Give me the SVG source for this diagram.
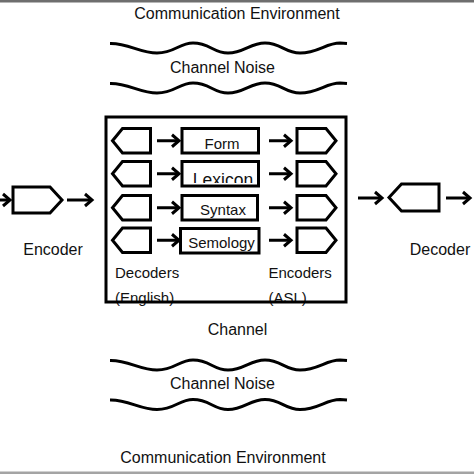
<svg xmlns="http://www.w3.org/2000/svg" width="474" height="474" viewBox="0 0 474 474">
<style>
text{font-family:"Liberation Sans",Arial,sans-serif;fill:#111;}
.big{font-size:16px;text-anchor:middle;}
.in{font-size:15px;}
.shape{fill:#fff;stroke:#000;stroke-width:3;stroke-linejoin:miter;}
.wave{fill:none;stroke:#000;stroke-width:3;}
.arr{fill:none;stroke:#000;stroke-width:3;marker-end:url(#head);}
</style>
<defs>
<marker id="head" markerUnits="userSpaceOnUse" markerWidth="14" markerHeight="16" viewBox="-9 -8 12 16" refX="0" refY="0" orient="auto">
<path d="M-7,-6 L0,0 L-7,6" fill="none" stroke="#000" stroke-width="3"/>
</marker>
<path id="wv" d="M110,-4.5 C128,-5 140,5 157,5 C175,5 179,-5 193,-5 C210,-5 213,5 228,5 C244,5 250,-5 265,-5 C281,-5 285,5 300,5 C318,5 326,-5 340,-5 L347,-4.5"/>
<path id="dec" d="M0,12.25 L10,0 L38,0 L38,24.5 L10,24.5 Z"/>
<path id="enc" d="M0,0 L29,0 L39,12.25 L29,24.5 L0,24.5 Z"/>
<clipPath id="lexclip"><rect x="182" y="160" width="78" height="23"/></clipPath>
</defs>
<rect x="0" y="0" width="474" height="2.5" fill="#6e6e6e"/>
<rect x="0" y="471.5" width="474" height="2.5" fill="#a4a4a4"/>

<g id="environment-top"><text class="big" x="237" y="19.3">Communication Environment</text></g>
<g id="noise-top">
<use href="#wv" class="wave" transform="translate(0,48)"/>
<text class="big" x="222.5" y="73.3">Channel Noise</text>
<use href="#wv" class="wave" transform="translate(0,88)"/>
</g>

<g id="encoder">
<path class="shape" d="M13,187 L50,187 L62,200 L50,213 L13,213 Z"/>
<text class="big" x="53" y="255">Encoder</text>
</g>
<g id="decoder">
<path class="shape" d="M389,197.5 L401.5,184 L439,184 L439,211 L401.5,211 Z"/>
<text class="big" x="440" y="255">Decoder</text>
</g>

<g id="channel">
<g id="decoders-english">
<use href="#dec" class="shape" transform="translate(112.5,128.5)"/>
<use href="#dec" class="shape" transform="translate(112.5,161.5)"/>
<use href="#dec" class="shape" transform="translate(112.5,195.5)"/>
<use href="#dec" class="shape" transform="translate(112.5,228)"/>
<text class="in" x="115" y="278.3">Decoders</text>
<text class="in" x="115" y="303">(English)</text>
</g>
<g id="form"><rect class="shape" x="182" y="128.5" width="76.5" height="24.5"/><text class="in" x="222" y="149" text-anchor="middle">Form</text></g>
<g id="lexicon"><rect class="shape" x="182" y="161.5" width="76.5" height="24.5"/><text x="223" y="185.5" text-anchor="middle" style="font-size:17.5px" clip-path="url(#lexclip)">Lexicon</text></g>
<g id="syntax"><rect class="shape" x="182" y="195.5" width="75.5" height="24.5"/><text class="in" x="223" y="215" text-anchor="middle">Syntax</text></g>
<g id="semology"><rect class="shape" x="180.5" y="228.5" width="78.5" height="24.5"/><text class="in" x="221.5" y="248.3" text-anchor="middle">Semology</text></g>
<g id="encoders-asl">
<use href="#enc" class="shape" transform="translate(297,128.5)"/>
<use href="#enc" class="shape" transform="translate(297,161.5)"/>
<use href="#enc" class="shape" transform="translate(297,195.5)"/>
<use href="#enc" class="shape" transform="translate(297,228)"/>
<text class="in" x="268.5" y="278.3">Encoders</text>
<text class="in" x="268.5" y="303">(ASL)</text>
</g>
<rect id="channel-box" x="106" y="117" width="240" height="185" fill="none" stroke="#000" stroke-width="3"/>
<text class="big" x="237.5" y="335">Channel</text>
</g>

<g id="noise-bottom">
<use href="#wv" class="wave" transform="translate(0,365)"/>
<text class="big" x="222.5" y="389.3">Channel Noise</text>
<use href="#wv" class="wave" transform="translate(0,404.5)"/>
</g>
<g id="environment-bottom"><text class="big" x="223" y="463.3">Communication Environment</text></g>

<g id="connectors">
<path class="arr" d="M0,200 L10,200"/>
<path class="arr" d="M67,200 L92,200"/>
<path class="arr" d="M157,140.75 L179,140.75"/>
<path class="arr" d="M157,173.75 L179,173.75"/>
<path class="arr" d="M157,207.75 L179,207.75"/>
<path class="arr" d="M157,240.25 L179,240.25"/>
<path class="arr" d="M269,140.75 L291,140.75"/>
<path class="arr" d="M269,173.75 L291,173.75"/>
<path class="arr" d="M269,207.75 L291,207.75"/>
<path class="arr" d="M269,240.25 L291,240.25"/>
<path class="arr" d="M358,198 L382,198"/>
<path class="arr" d="M446,198 L470,198"/>
</g>
</svg>
